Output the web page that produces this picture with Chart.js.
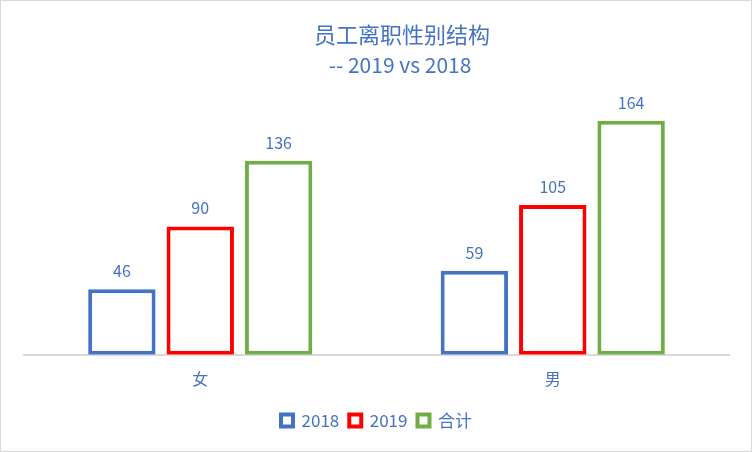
<!DOCTYPE html>
<html>
<head>
<meta charset="utf-8">
<script src="https://cdn.jsdelivr.net/npm/chart.js@4.4.1/dist/chart.umd.min.js"></script>
<style>
  html, body { margin: 0; padding: 0; background: #fff; }
  #wrap { width: 750px; height: 450px; border: 1px solid #d9d9d9; }
</style>
</head>
<body>
<div id="wrap"><canvas id="chart" width="750" height="450"></canvas></div>
<script>
// --- Data ---
const categories = ['女', '男'];
const seriesNames = ['2018', '2019', '合计'];
const values2018 = [46, 59];
const values2019 = [90, 105];
const valuesTotal = [136, 164];
const titleText = '员工离职性别结构';
const subtitleText = '-- 2019 vs 2018';

const BLUE = '#4472C4';
const FONT = '"Noto Sans CJK SC", "Noto Sans", sans-serif';

// title sits a bit right of centre, like the original, so draw it by hand
const titles = {
  id: 'titles',
  afterDraw(chart) {
    const ctx = chart.ctx;
    ctx.save();
    ctx.fillStyle = BLUE;
    ctx.textAlign = 'center';
    ctx.textBaseline = 'middle';
    ctx.font = '22px ' + FONT;
    ctx.fillText(titleText, 401, 34);
    ctx.font = '21px ' + FONT;
    ctx.fillText(subtitleText, 399, 64);
    ctx.restore();
  }
};

// draws the value above each bar
const valueLabels = {
  id: 'valueLabels',
  afterDatasetsDraw(chart) {
    const ctx = chart.ctx;
    ctx.save();
    ctx.font = '16px ' + FONT;
    ctx.fillStyle = BLUE;
    ctx.textAlign = 'center';
    ctx.textBaseline = 'bottom';
    chart.data.datasets.forEach((ds, i) => {
      chart.getDatasetMeta(i).data.forEach((bar, j) => {
        ctx.fillText(ds.data[j], bar.x, bar.y - 10);
      });
    });
    ctx.restore();
  }
};

const colors = [BLUE, '#FF0000', '#70AD47'];
const seriesValues = [values2018, values2019, valuesTotal];

new Chart(document.getElementById('chart'), {
  type: 'bar',
  data: {
    labels: categories,
    datasets: seriesNames.map((name, i) => ({
      label: name,
      data: seriesValues[i],
      backgroundColor: '#ffffff',
      borderColor: colors[i],
      borderWidth: 4,
      borderSkipped: false,
      categoryPercentage: 0.667,
      barPercentage: 0.86
    }))
  },
  options: {
    responsive: false,
    animation: false,
    layout: { padding: { left: 23, right: 22, top: 97, bottom: 12 } },
    plugins: {
      legend: {
        position: 'bottom',
        labels: {
          color: BLUE,
          font: { family: FONT, size: 17 },
          boxWidth: 12,
          boxHeight: 12,
          padding: 10
        }
      },
      tooltip: { enabled: false }
    },
    scales: {
      x: {
        grid: { display: false },
        border: { color: '#d9d9d9', width: 2 },
        ticks: { color: BLUE, font: { family: FONT, size: 16 }, padding: 7 },
        afterFit(axis) { axis.height += 6; }
      },
      y: {
        display: false,
        min: 0,
        max: 180
      }
    }
  },
  plugins: [valueLabels, titles]
});
</script>
</body>
</html>
